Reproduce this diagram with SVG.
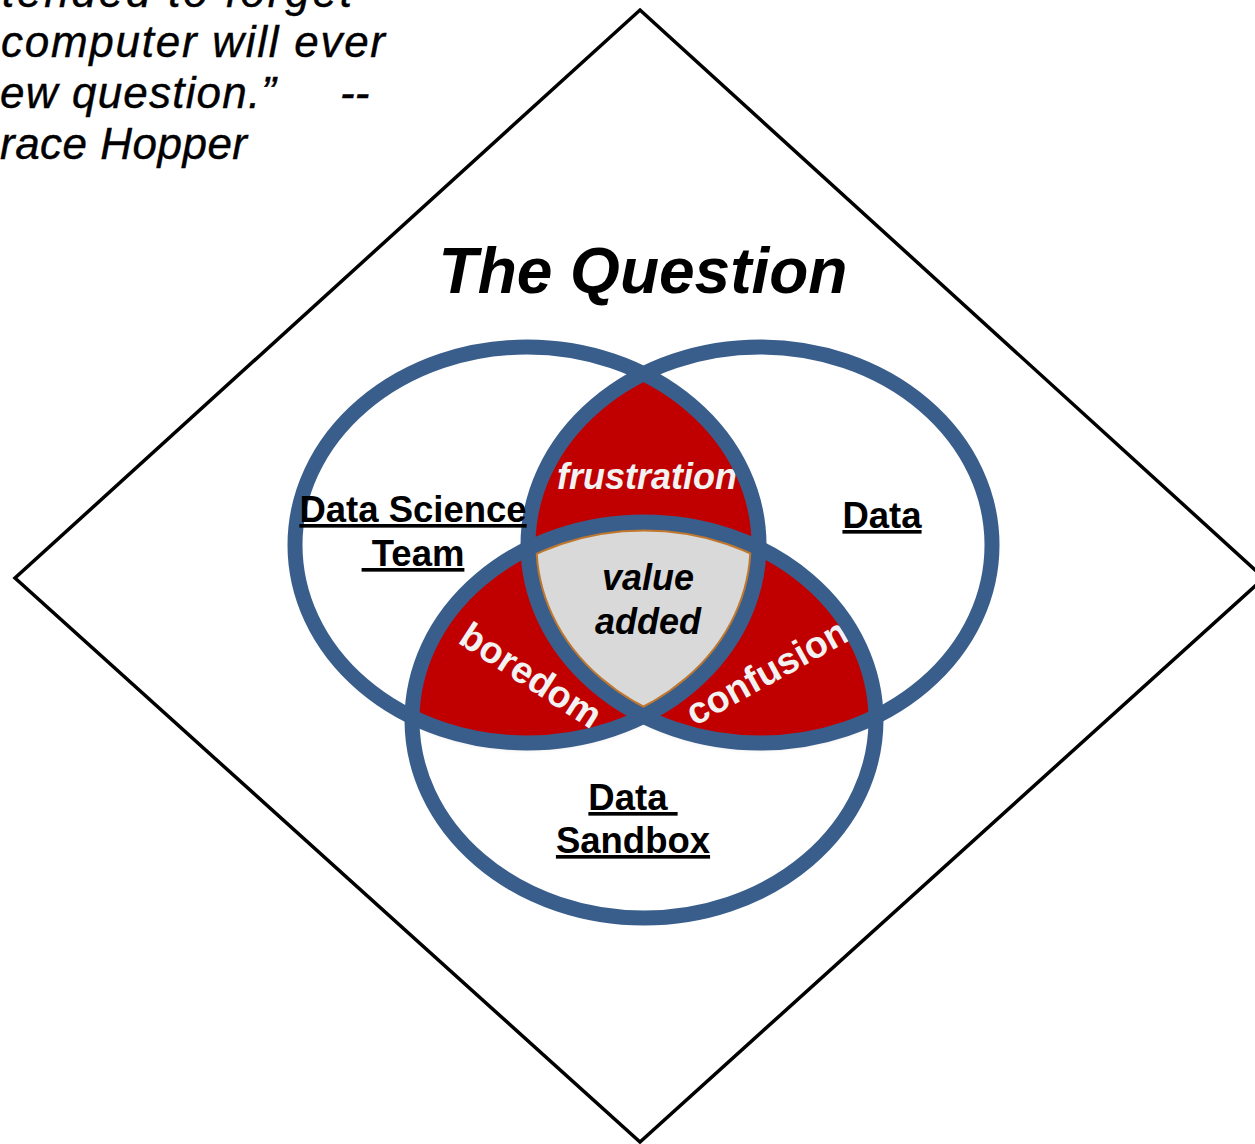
<svg xmlns="http://www.w3.org/2000/svg" width="1255" height="1144" viewBox="0 0 1255 1144">
  <style>
    .quote { font-family: "Liberation Sans", Arial, sans-serif; font-style: italic; font-size: 44px; fill: #000; stroke: #000; stroke-width: 0.4; }
    .title { font-family: "Liberation Sans", Arial, sans-serif; font-style: italic; font-weight: bold; font-size: 64px; fill: #000; }
    .lbl { font-family: "Liberation Sans", Arial, sans-serif; font-weight: bold; font-size: 36.5px; fill: #000; text-anchor: middle; text-decoration: underline; white-space: pre; }
    .region { font-family: "Liberation Sans", Arial, sans-serif; font-weight: bold; font-size: 36px; text-anchor: middle; }
    .big { font-size: 37.5px; }
    .white { fill: #F2F2F2; }
    .ring { fill: none; stroke: #3A5E8B; stroke-width: 15; }
  </style>
  <defs>
    <clipPath id="cL"><ellipse cx="527" cy="545" rx="232" ry="198"/></clipPath>
    <clipPath id="cR"><ellipse cx="760" cy="545" rx="232" ry="198"/></clipPath>
    <clipPath id="cB"><ellipse cx="644" cy="720" rx="232" ry="198"/></clipPath>
    <filter id="shadow" x="-10%" y="-10%" width="120%" height="130%">
      <feDropShadow dx="0" dy="4" stdDeviation="3" flood-color="#000" flood-opacity="0.3"/>
    </filter>
  </defs>

  <rect width="1255" height="1144" fill="#fff"/>

  <g id="quote">
    <text class="quote" x="2" y="7" textLength="350" lengthAdjust="spacing">tended to forget</text>
    <text class="quote" x="1" y="57" textLength="384" lengthAdjust="spacing">computer will ever</text>
    <text class="quote" y="108"><tspan x="0" textLength="276" lengthAdjust="spacing">ew question.”</tspan><tspan x="340">--</tspan></text>
    <text class="quote" x="0" y="159" textLength="247" lengthAdjust="spacing">race Hopper</text>
  </g>

  <g id="question-diamond">
    <polygon points="640,10 1264,578 640,1142 15,578" fill="none" stroke="#000" stroke-width="3.5" stroke-linejoin="miter"/>
    <text class="title" x="643" y="293" text-anchor="middle">The Question</text>
  </g>

  <g id="venn">
    <g id="overlaps" filter="url(#shadow)">
      <g clip-path="url(#cL)"><ellipse cx="760" cy="545" rx="232" ry="198" fill="#C00000"/></g>
      <g clip-path="url(#cL)"><ellipse cx="644" cy="720" rx="232" ry="198" fill="#C00000"/></g>
      <g clip-path="url(#cR)"><ellipse cx="644" cy="720" rx="232" ry="198" fill="#C00000"/></g>
    </g>
    <g id="value-added" clip-path="url(#cL)">
      <g clip-path="url(#cR)">
        <g clip-path="url(#cB)">
          <ellipse cx="644" cy="720" rx="232" ry="198" fill="#D9D9D9"/>
          <ellipse cx="644" cy="720" rx="232" ry="198" fill="none" stroke="#C0772E" stroke-width="19"/>
          <ellipse cx="527" cy="545" rx="232" ry="198" fill="none" stroke="#C0772E" stroke-width="19"/>
          <ellipse cx="760" cy="545" rx="232" ry="198" fill="none" stroke="#C0772E" stroke-width="19"/>
        </g>
      </g>
    </g>

    <text id="frustration" class="region white" x="647" y="489" font-style="italic">frustration</text>
    <text id="boredom" class="region big white" transform="translate(524,686) rotate(33)">boredom</text>
    <text id="confusion" class="region big white" transform="translate(773,683) rotate(-29)">confusion</text>

    <g id="team"><ellipse class="ring" cx="527" cy="545" rx="232" ry="198"/></g>
    <g id="data"><ellipse class="ring" cx="760" cy="545" rx="232" ry="198"/></g>
    <g id="sandbox"><ellipse class="ring" cx="644" cy="720" rx="232" ry="198"/></g>

    <text class="region" x="648" y="590" font-style="italic">value</text>
    <text class="region" x="648" y="634" font-style="italic">added</text>

    <text class="lbl" x="413" y="522">Data Science</text>
    <text class="lbl" x="413" y="566"> Team</text>
    <text class="lbl" x="882" y="528">Data</text>
    <text class="lbl" x="633" y="810">Data </text>
    <text class="lbl" x="633" y="853">Sandbox</text>
  </g>
</svg>
